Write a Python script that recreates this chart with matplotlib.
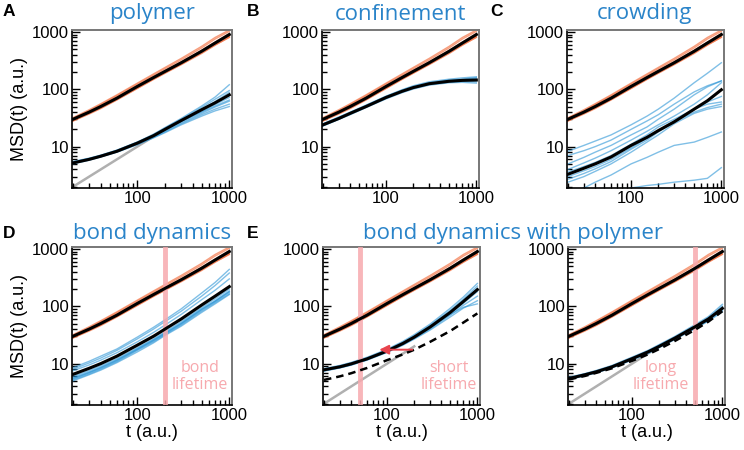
import matplotlib
matplotlib.use('Agg')
import matplotlib.pyplot as plt
from matplotlib.ticker import LogLocator, NullFormatter, FixedLocator, FixedFormatter

plt.rcParams['font.family'] = ['Liberation Sans', 'DejaVu Sans']

# shared time grid (a.u.)
t = [20, 30, 40, 60, 100, 150, 200, 300, 500, 700, 1000]

# orange (reference) traces, same for every panel
orange_runs = [
    [32, 44, 56, 80, 128, 185, 240, 345, 560, 800, 1080],
    [31, 42, 54, 77, 123, 176, 228, 325, 525, 750, 1020],
    [28, 37, 46, 65, 103, 148, 190, 268, 420, 585, 810],
    [30, 40, 50, 70, 110, 158, 202, 285, 455, 630, 880],
    [31, 41, 52, 73, 116, 166, 213, 300, 478, 665, 930],
    [28, 38, 47, 66, 104, 150, 192, 272, 430, 592, 800],
    [30, 40, 51, 72, 114, 162, 209, 295, 470, 650, 860],
    [29, 39, 49, 69, 109, 156, 200, 282, 448, 620, 840],
]
orange_mean = [30, 40, 50, 70, 112, 160, 205, 290, 460, 640, 900]

# A: polymer
poly_runs = [
    [5.5, 6.3, 7.1, 8.7, 12, 16.5, 21.5, 31, 51, 73, 120],
    [5.4, 6.2, 7.0, 8.6, 12, 16, 21, 30, 48, 67, 95],
    [5.3, 6.1, 6.9, 8.4, 11.7, 15.8, 20.3, 29, 45, 61, 88],
    [5.2, 6.0, 6.8, 8.3, 11.4, 15.3, 19.5, 27.5, 41, 54, 72],
    [5.1, 5.9, 6.7, 8.2, 11.2, 14.8, 18.7, 26, 38, 49, 62],
    [5.2, 6.0, 6.7, 8.1, 11, 14.5, 18, 25, 36, 45, 55],
    [5.3, 6.1, 6.9, 8.4, 11.6, 15.5, 19.8, 27.5, 40, 51, 65],
    [5.0, 5.8, 6.6, 8.0, 10.8, 14.2, 17.5, 24, 34, 42, 50],
]
poly_mean = [5.2, 6.0, 6.8, 8.3, 11.5, 15.5, 20, 28.5, 44, 58, 80]

# B: confinement
conf_runs = [
    [25, 33, 40, 53, 76, 98, 115, 135, 150, 158, 165],
    [24, 32, 39, 52, 75, 96, 112, 130, 145, 150, 160],
    [23, 30, 37, 49, 70, 90, 105, 122, 135, 140, 148],
    [24, 31, 38, 50, 71, 91, 106, 123, 133, 138, 135],
    [23, 30, 36, 48, 68, 87, 101, 118, 130, 132, 128],
    [25, 32, 39, 51, 73, 93, 108, 127, 140, 147, 155],
]
conf_mean = [24, 31, 38, 50, 72, 92, 107, 125, 138, 143, 145]

# C: crowding
crowd_runs = [
    [8.3, 10.5, 12.5, 16, 24, 34, 45, 70, 130, 190, 290],
    [7, 8.5, 10, 13, 20, 28, 36, 55, 90, 115, 140],
    [5, 6.5, 8, 10.5, 16, 22, 30, 45, 80, 110, 140],
    [4, 5.2, 6.3, 8.5, 13, 18.5, 24, 34, 55, 80, 130],
    [3.6, 4.5, 5.3, 7, 11, 16, 22, 30, 45, 60, 75],
    [3.0, 3.8, 4.5, 6, 9.5, 14, 19, 28, 45, 55, 60],
    [2.7, 3.4, 4.1, 5.5, 9, 13, 18, 27, 40, 48, 55],
    [2.4, 3.0, 3.7, 5, 8, 12, 16, 25, 38, 45, 50],
    [1.5, 1.9, 2.4, 3.2, 5, 6.5, 8, 10.5, 12, 14.5, 18],
    [1.2, 1.3, 1.4, 1.6, 1.9, 2.1, 2.2, 2.4, 2.6, 2.8, 4.3],
]
crowd_mean = [3.3, 4.2, 5.0, 6.6, 10.5, 14.5, 19, 27, 45, 63, 98]

# D: bond dynamics
bond_runs = [
    [8.5, 11, 13.5, 18, 29, 43, 58, 90, 170, 260, 440],
    [8.0, 10.3, 12.5, 17, 27, 40, 54, 82, 150, 230, 380],
    [7.5, 9.5, 11.5, 15.5, 24, 35, 47, 72, 130, 190, 300],
    [6.0, 7.6, 9.2, 12.3, 19, 27, 36, 54, 95, 135, 200],
    [5.7, 7.2, 8.7, 11.7, 18, 26, 34, 51, 90, 125, 185],
    [5.4, 6.9, 8.3, 11.2, 17.5, 25, 33, 49, 86, 120, 175],
    [5.2, 6.6, 8.0, 10.8, 17, 24, 32, 47, 82, 115, 165],
    [5.5, 7.0, 8.5, 11.5, 18, 25.5, 34, 50, 88, 122, 180],
    [5.0, 6.4, 7.7, 10.4, 16, 23, 31, 45, 78, 110, 160],
]
bond_mean = [6.5, 8.3, 10, 13.5, 21, 30, 40, 60, 105, 150, 220]

# E: bond dynamics with polymer, short lifetime
short_runs = [
    [8.2, 9.3, 10.5, 12.9, 17.8, 24.5, 32, 49, 92, 145, 250],
    [8.0, 9.1, 10.2, 12.5, 17.2, 23.5, 30.5, 46.5, 85, 133, 225],
    [7.9, 8.9, 10.0, 12.3, 16.9, 23, 29.7, 45, 81, 127, 205],
    [7.6, 8.6, 9.7, 11.9, 16.3, 22, 28.3, 42, 74, 113, 180],
    [7.5, 8.5, 9.5, 11.7, 16, 21.5, 27.5, 40, 70, 104, 150],
    [7.4, 8.4, 9.4, 11.5, 15.7, 21, 26.8, 38.5, 65, 93, 125],
    [7.7, 8.7, 9.8, 12.0, 16.5, 22.3, 28.8, 43, 72, 96, 110],
]
short_mean = [7.8, 8.8, 9.9, 12.1, 16.6, 22.5, 29, 43.5, 78, 121, 195]
short_poly = [5.2, 6.0, 6.8, 8.4, 11.5, 14.5, 17.5, 24, 37, 52, 75]

# E (right): long lifetime
long_runs = [
    [5.8, 6.7, 7.6, 9.3, 13, 17, 21.5, 30, 48, 66, 108],
    [5.7, 6.6, 7.4, 9.1, 12.6, 16.5, 21, 29, 46, 63, 100],
    [5.5, 6.4, 7.2, 8.8, 12.1, 15.8, 20, 28, 44, 59, 90],
    [5.4, 6.2, 7.0, 8.6, 11.8, 15.4, 19.4, 27, 42, 56, 85],
    [5.3, 6.1, 6.9, 8.4, 11.5, 15, 19, 26.5, 41, 55, 80],
]
long_mean = [5.5, 6.4, 7.2, 8.8, 12.2, 16, 20, 28, 44, 60, 92]
long_poly = [5.3, 6.1, 6.9, 8.3, 11.2, 14.5, 18, 25, 39, 54, 82]

# slope-1 guide line
guide_t = [20, 200]
guide_y = [2, 20]

# bond lifetimes
lifetime_D = 200
lifetime_short = 50
lifetime_long = 500
arrow_from = (190, 17.5)
arrow_to = (82, 17.5)

BLUE_TXT = '#2a84c9'
ORANGE = '#f26b3a'
BLUE = '#2b95d6'
PINK = '#f7a9ae'

fig = plt.figure(figsize=(7.44, 4.5), dpi=100)


def make_ax(rect):
    ax = fig.add_axes(rect)
    ax.set_xscale('log')
    ax.set_yscale('log')
    ax.set_xlim(19.5, 1070)
    ax.set_ylim(1.9, 1080)
    ax.xaxis.set_major_locator(FixedLocator([100, 1000]))
    ax.xaxis.set_major_formatter(FixedFormatter(['100', '1000']))
    ax.xaxis.set_minor_locator(LogLocator(base=10, subs=range(2, 10)))
    ax.xaxis.set_minor_formatter(NullFormatter())
    ax.yaxis.set_major_locator(FixedLocator([10, 100, 1000]))
    ax.yaxis.set_major_formatter(FixedFormatter(['10', '100', '1000']))
    ax.yaxis.set_minor_locator(LogLocator(base=10, subs=range(2, 10)))
    ax.yaxis.set_minor_formatter(NullFormatter())
    ax.tick_params(which='both', direction='in', labelsize=12, pad=2, width=1)
    ax.tick_params(which='major', length=6)
    ax.tick_params(which='minor', length=3.5)
    for s in ['top', 'right']:
        ax.spines[s].set_color('#777777')
        ax.spines[s].set_linewidth(1.4)
    for s in ['left', 'bottom']:
        ax.spines[s].set_color('black')
        ax.spines[s].set_linewidth(1.2)
    return ax


def draw(ax, runs, mean, poly=None, guide=False):
    if guide:
        ax.plot(guide_t, guide_y, color='#b0b0b0', lw=1.8, zorder=1)
    for r in orange_runs:
        ax.plot(t, r, color=ORANGE, lw=1.0, alpha=0.65, zorder=2)
    ax.plot(t, orange_mean, color='black', lw=2.2, zorder=4)
    for r in runs:
        ax.plot(t, r, color=BLUE, lw=1.0, alpha=0.6, zorder=2)
    ax.plot(t, mean, color='black', lw=2.2, zorder=4)
    if poly is not None:
        ax.plot(t, poly, color='black', lw=1.8, ls=(0, (3, 2)), zorder=4)


W1, W2, W3 = 160 / 744, 157 / 744, 157 / 744
X1, X2, X3 = 72 / 744, 322 / 744, 567 / 744
H = 158 / 450
Y1, Y2 = 1 - 188 / 450, 1 - 405 / 450

axA = make_ax([X1, Y1, W1, H])
axB = make_ax([X2, Y1, W2, H])
axC = make_ax([X3, Y1, W3, H])
axD = make_ax([X1, Y2, W1, H])
axE = make_ax([X2 + 1 / 744, Y2, W2, H])
axF = make_ax([X3 + 1 / 744, Y2, W3, H])

draw(axA, poly_runs, poly_mean, guide=True)
draw(axB, conf_runs, conf_mean)
draw(axC, crowd_runs, crowd_mean)
draw(axD, bond_runs, bond_mean)
draw(axE, short_runs, short_mean, poly=short_poly, guide=True)
draw(axF, long_runs, long_mean, poly=long_poly, guide=True)

# lifetimes
for ax, lt in [(axD, lifetime_D), (axE, lifetime_short), (axF, lifetime_long)]:
    ax.axvline(lt, ymin=0.02, ymax=0.985, color=PINK, lw=3.5, alpha=0.85, zorder=3)

axE.annotate('', xy=arrow_to, xytext=arrow_from,
             arrowprops=dict(arrowstyle='-|>', color='#e8444e', lw=1.4,
                             mutation_scale=14, shrinkA=0, shrinkB=0), zorder=5)

txt_kw = dict(color=PINK, fontsize=11.5, family=['Open Sans', 'DejaVu Sans'],
              ha='center', va='center', linespacing=1.15)
axD.text(0.80, 0.18, 'bond\nlifetime', transform=axD.transAxes, **txt_kw)
axE.text(0.80, 0.18, 'short\nlifetime', transform=axE.transAxes, **txt_kw)
axF.text(0.59, 0.18, 'long\nlifetime', transform=axF.transAxes, **txt_kw)

# titles
title_kw = dict(color=BLUE_TXT, fontsize=16, family=['Open Sans', 'DejaVu Sans'],
                ha='center', va='center')
fig.text(152 / 744, 1 - 14 / 450, 'polymer', **title_kw)
fig.text(400 / 744, 1 - 14 / 450, 'confinement', **title_kw)
fig.text(644 / 744, 1 - 14 / 450, 'crowding', **title_kw)
fig.text(152 / 744, 1 - 233 / 450, 'bond dynamics', **title_kw)
fig.text(513 / 744, 1 - 233 / 450, 'bond dynamics with polymer', **title_kw)

# panel letters
for lx, ly, lab in [(3, 12, 'A'), (247, 12, 'B'), (490, 12, 'C'),
                    (3, 234, 'D'), (247, 234, 'E')]:
    fig.text(lx / 744, 1 - ly / 450, lab, fontsize=12.5, fontweight='bold',
             ha='left', va='center')

# axis labels
for ax in (axA, axD):
    ax.set_ylabel('MSD(t) (a.u.)', fontsize=13, labelpad=3)
for ax in (axD, axE, axF):
    ax.set_xlabel('t (a.u.)', fontsize=13, labelpad=1)

fig.savefig('out.png', dpi=100)
